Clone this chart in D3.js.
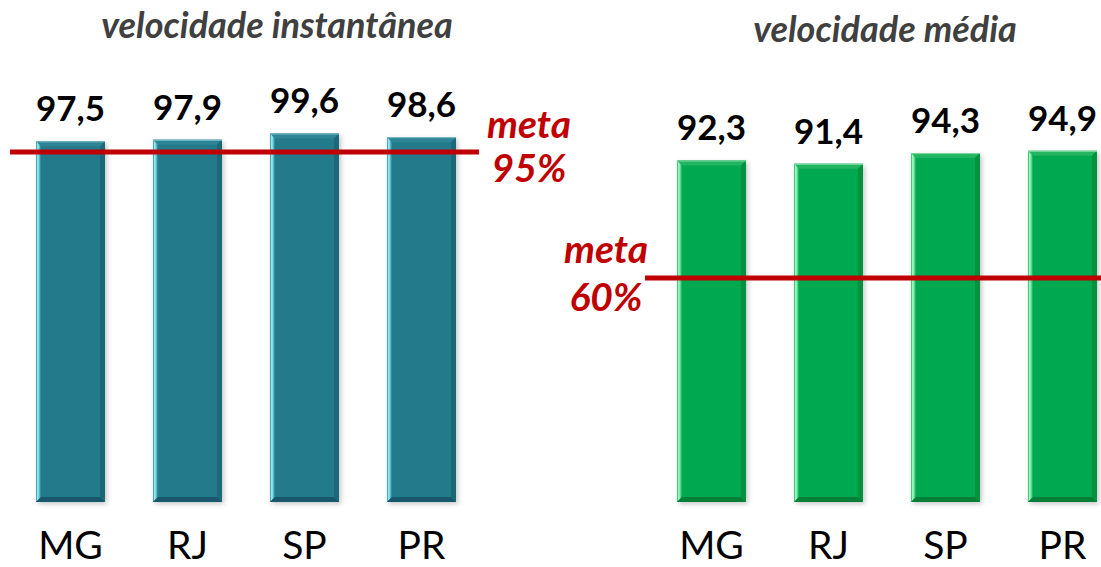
<!DOCTYPE html>
<html><head><meta charset="utf-8">
<script src="https://cdn.jsdelivr.net/npm/d3@7"></script>
<style>html,body{margin:0;padding:0;background:#fff;}svg{display:block;}</style>
</head><body>
<script>
// ---- data ----
const categories = ["MG", "RJ", "SP", "PR"];
const instantValues = [97.5, 97.9, 99.6, 98.6];
const averageValues = [92.3, 91.4, 94.3, 94.9];
const instantTarget = 95;
const averageTarget = 60;
const titles = ["velocidade instantânea", "velocidade média"];
const targetLabels = [["meta", "95%"], ["meta", "60%"]];

const W = 1101, H = 567;
const svg = d3.select("body").append("svg").attr("width", W).attr("height", H);
const defs = svg.append("defs");

const f = defs.append("filter").attr("id","shadow").attr("x","-20%").attr("y","-5%").attr("width","140%").attr("height","115%");
f.append("feDropShadow").attr("dx",2).attr("dy",2).attr("stdDeviation",2.5)
 .attr("flood-color","#000").attr("flood-opacity",0.22);

const themes = {
  teal: {base:"#247A8B", top:"#2d8595", topLine:"#7fc0cb", right:"#1d6878", bottom:"#17596a",
         leftStops:[["0%","#2b8797"],["35%","#a6f3fd"],["65%","#5cc4d3"],["100%","#247A8B"]]},
  green:{base:"#06A94F", top:"#23b561", topLine:"#7fd9a3", right:"#06913f", bottom:"#067f38",
         leftStops:[["0%","#14b35a"],["35%","#b2ffcf"],["65%","#5ee094"],["100%","#06A94F"]]}
};
Object.entries(themes).forEach(([k,t])=>{
  const g = defs.append("linearGradient").attr("id","left-"+k).attr("x1","0").attr("x2","1").attr("y1","0").attr("y2","0");
  t.leftStops.forEach(s=>g.append("stop").attr("offset",s[0]).attr("stop-color",s[1]));
});

const y = d3.scaleLinear().domain([0,100]).range([502,132]);
const font = "Lato, 'Noto Sans', sans-serif";

function panel(opts){
  const x = d3.scaleBand().domain(categories).range(opts.range).paddingInner(0.41).paddingOuter(0.2);
  const t = themes[opts.theme];
  const g = svg.append("g");
  const b = 5;
  const data = categories.map((c,i)=>({c, v: opts.values[i]}));
  const bars = g.selectAll("g.bar").data(data).join("g").attr("class","bar");
  bars.each(function(d){
    const sel = d3.select(this);
    const x0 = x(d.c), w = x.bandwidth(), y0 = y(d.v), y1 = y(0);
    const x1 = x0 + w;
    sel.append("rect").attr("x",x0).attr("y",y0).attr("width",w).attr("height",y1-y0)
      .attr("fill",t.base).attr("filter","url(#shadow)");
    const poly = (pts, fill)=> sel.append("polygon").attr("points", pts.map(p=>p.join(",")).join(" ")).attr("fill",fill);
    poly([[x0,y0],[x1,y0],[x1-b,y0+b],[x0+b,y0+b]], t.top);
    poly([[x0,y0],[x0+b,y0+b],[x0+b,y1-b],[x0,y1]], "url(#left-"+opts.theme+")");
    poly([[x1,y0],[x1,y1],[x1-b,y1-b],[x1-b,y0+b]], t.right);
    poly([[x0,y1],[x0+b,y1-b],[x1-b,y1-b],[x1,y1]], t.bottom);
    sel.append("line").attr("x1",x0).attr("x2",x1).attr("y1",y0+0.5).attr("y2",y0+0.5)
      .attr("stroke",t.topLine).attr("stroke-width",1);
  });
  // value labels
  g.selectAll("text.val").data(data).join("text").attr("class","val")
    .attr("x",d=>x(d.c)+x.bandwidth()/2).attr("y",d=>y(d.v)-20)
    .attr("text-anchor","middle").attr("font-family",font).attr("font-weight",700)
    .attr("font-size",35).attr("fill","#000")
    .text(d=>d3.format(".1f")(d.v).replace(".",","));
  // category labels
  g.selectAll("text.cat").data(categories).join("text").attr("class","cat")
    .attr("x",d=>x(d)+x.bandwidth()/2).attr("y",559)
    .attr("text-anchor","middle").attr("font-family",font).attr("font-size",39).attr("fill","#000")
    .text(d=>d);
  // target line
  g.append("line").attr("x1",opts.lineX[0]).attr("x2",opts.lineX[1])
    .attr("y1",y(opts.target)+opts.lineDy).attr("y2",y(opts.target)+opts.lineDy)
    .attr("stroke","#C00000").attr("stroke-width",5);
  // target label
  const tl = g.append("text").attr("font-family",font).attr("font-weight",700).attr("font-style","italic")
    .attr("font-size",39).attr("fill","#C00000").attr("text-anchor","middle");
  opts.targetText.forEach((s,i)=>tl.append("tspan").attr("x",opts.targetPos[0]).attr("y",opts.targetPos[1]+i*opts.targetGap).text(s));
  // title
  g.append("text").attr("x",opts.titlePos[0]).attr("y",opts.titlePos[1]).attr("text-anchor","middle")
    .attr("font-family",font).attr("font-weight",700).attr("font-style","italic").attr("font-size",36)
    .attr("fill","#404040").text(opts.title);
  return x;
}

panel({range:[12.6,479.4], values:instantValues, theme:"teal", target:instantTarget, lineDy:1.5,
  lineX:[10,479], targetText:targetLabels[0], targetPos:[529,138], targetGap:44,
  titlePos:[277,38], title:titles[0]});
panel({range:[653.6,1120.4], values:averageValues, theme:"green", target:averageTarget, lineDy:-2,
  lineX:[645,1101], targetText:targetLabels[1], targetPos:[606,263], targetGap:48,
  titlePos:[885,42], title:titles[1]});
</script>
</body></html>
